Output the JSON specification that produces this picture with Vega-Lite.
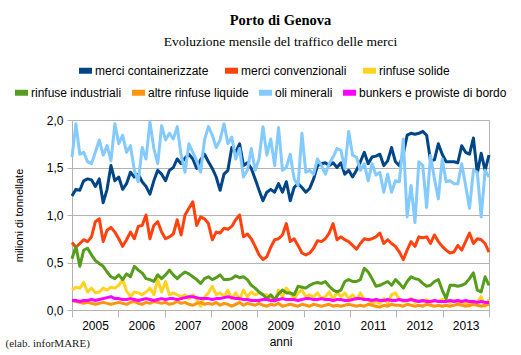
{
"$schema": "https://vega.github.io/schema/vega-lite/v6.json",
"background": "white",
"padding": {"left": 5, "top": 12, "right": 10, "bottom": 4},
"title": {"text": "(elab. inforMARE)", "orient": "bottom", "anchor": "start", "font": "Liberation Serif", "fontSize": 11, "fontWeight": "normal", "color": "#222222", "offset": -10, "dx": -6},
"vconcat": [{
"width": 417,
"height": 190,
"title": {"text": "Porto di Genova", "subtitle": "Evoluzione mensile del traffico delle merci", "font": "Liberation Serif", "fontSize": 14.5, "fontWeight": "bold", "color": "black", "subtitleFont": "Liberation Serif", "subtitleFontSize": 13.5, "subtitleColor": "black", "subtitlePadding": 6, "anchor": "middle", "dx": 0, "offset": 12},
"data": {"values": [
{"m":0,"a":1.20,"b":0.71,"c":0.21,"d":0.54,"e":0.10,"f":1.61,"g":0.10},
{"m":1,"a":1.27,"b":0.66,"c":0.24,"d":0.67,"e":0.09,"f":1.96,"g":0.10},
{"m":2,"a":1.26,"b":0.70,"c":0.23,"d":0.46,"e":0.08,"f":1.64,"g":0.09},
{"m":3,"a":1.36,"b":0.74,"c":0.29,"d":0.63,"e":0.07,"f":1.66,"g":0.10},
{"m":4,"a":1.38,"b":0.72,"c":0.19,"d":0.65,"e":0.08,"f":1.56,"g":0.10},
{"m":5,"a":1.37,"b":0.77,"c":0.23,"d":0.58,"e":0.07,"f":1.54,"g":0.11},
{"m":6,"a":1.30,"b":0.93,"c":0.18,"d":0.52,"e":0.06,"f":1.66,"g":0.10},
{"m":7,"a":1.38,"b":0.96,"c":0.19,"d":0.49,"e":0.07,"f":1.79,"g":0.11},
{"m":8,"a":1.13,"b":0.72,"c":0.23,"d":0.46,"e":0.08,"f":1.63,"g":0.12},
{"m":9,"a":1.27,"b":0.84,"c":0.21,"d":0.40,"e":0.07,"f":1.73,"g":0.13},
{"m":10,"a":1.52,"b":0.87,"c":0.24,"d":0.35,"e":0.06,"f":1.57,"g":0.14},
{"m":11,"a":1.36,"b":0.82,"c":0.23,"d":0.33,"e":0.07,"f":1.96,"g":0.12},
{"m":12,"a":1.40,"b":0.75,"c":0.26,"d":0.37,"e":0.08,"f":1.75,"g":0.12},
{"m":13,"a":1.27,"b":0.67,"c":0.32,"d":0.32,"e":0.07,"f":1.84,"g":0.11},
{"m":14,"a":1.33,"b":0.74,"c":0.20,"d":0.38,"e":0.06,"f":1.66,"g":0.11},
{"m":15,"a":1.45,"b":0.82,"c":0.14,"d":0.35,"e":0.08,"f":1.73,"g":0.12},
{"m":16,"a":1.40,"b":0.75,"c":0.19,"d":0.46,"e":0.09,"f":1.47,"g":0.11},
{"m":17,"a":1.43,"b":0.88,"c":0.18,"d":0.42,"e":0.07,"f":1.35,"g":0.10},
{"m":18,"a":1.35,"b":0.89,"c":0.16,"d":0.39,"e":0.06,"f":1.71,"g":0.11},
{"m":19,"a":1.30,"b":1.00,"c":0.19,"d":0.33,"e":0.08,"f":1.59,"g":0.12},
{"m":20,"a":1.22,"b":0.75,"c":0.23,"d":0.32,"e":0.07,"f":1.98,"g":0.11},
{"m":21,"a":1.36,"b":0.89,"c":0.16,"d":0.30,"e":0.09,"f":1.70,"g":0.10},
{"m":22,"a":1.47,"b":0.93,"c":0.32,"d":0.37,"e":0.08,"f":1.54,"g":0.11},
{"m":23,"a":1.43,"b":0.82,"c":0.19,"d":0.33,"e":0.07,"f":1.94,"g":0.12},
{"m":24,"a":1.36,"b":0.75,"c":0.30,"d":0.37,"e":0.08,"f":1.79,"g":0.11},
{"m":25,"a":1.47,"b":0.77,"c":0.16,"d":0.42,"e":0.06,"f":1.86,"g":0.12},
{"m":26,"a":1.50,"b":0.80,"c":0.18,"d":0.37,"e":0.07,"f":1.80,"g":0.12},
{"m":27,"a":1.59,"b":0.95,"c":0.16,"d":0.33,"e":0.09,"f":1.93,"g":0.11},
{"m":28,"a":1.54,"b":0.79,"c":0.14,"d":0.37,"e":0.07,"f":1.63,"g":0.12},
{"m":29,"a":1.60,"b":1.00,"c":0.16,"d":0.40,"e":0.08,"f":1.45,"g":0.13},
{"m":30,"a":1.64,"b":1.07,"c":0.12,"d":0.38,"e":0.06,"f":1.75,"g":0.14},
{"m":31,"a":1.59,"b":1.14,"c":0.16,"d":0.35,"e":0.05,"f":1.66,"g":0.14},
{"m":32,"a":1.49,"b":0.89,"c":0.11,"d":0.32,"e":0.07,"f":1.57,"g":0.13},
{"m":33,"a":1.58,"b":0.98,"c":0.04,"d":0.28,"e":0.08,"f":1.45,"g":0.12},
{"m":34,"a":1.64,"b":0.96,"c":0.14,"d":0.33,"e":0.06,"f":1.79,"g":0.12},
{"m":35,"a":1.56,"b":0.91,"c":0.18,"d":0.35,"e":0.07,"f":1.93,"g":0.12},
{"m":36,"a":1.49,"b":0.74,"c":0.25,"d":0.32,"e":0.06,"f":1.84,"g":0.11},
{"m":37,"a":1.40,"b":0.82,"c":0.16,"d":0.34,"e":0.08,"f":1.71,"g":0.12},
{"m":38,"a":1.26,"b":0.81,"c":0.18,"d":0.37,"e":0.05,"f":1.79,"g":0.12},
{"m":39,"a":1.43,"b":0.86,"c":0.14,"d":0.32,"e":0.07,"f":1.96,"g":0.13},
{"m":40,"a":1.47,"b":0.85,"c":0.21,"d":0.32,"e":0.06,"f":1.75,"g":0.14},
{"m":41,"a":1.71,"b":0.88,"c":0.12,"d":0.33,"e":0.04,"f":1.82,"g":0.13},
{"m":42,"a":1.66,"b":0.95,"c":0.18,"d":0.36,"e":0.06,"f":1.59,"g":0.12},
{"m":43,"a":1.75,"b":1.00,"c":0.11,"d":0.34,"e":0.08,"f":1.70,"g":0.12},
{"m":44,"a":1.52,"b":0.77,"c":0.21,"d":0.35,"e":0.05,"f":1.40,"g":0.11},
{"m":45,"a":1.55,"b":0.80,"c":0.14,"d":0.32,"e":0.07,"f":1.47,"g":0.11},
{"m":46,"a":1.49,"b":0.75,"c":0.19,"d":0.26,"e":0.06,"f":1.70,"g":0.10},
{"m":47,"a":1.38,"b":0.67,"c":0.16,"d":0.23,"e":0.05,"f":1.47,"g":0.10},
{"m":48,"a":1.26,"b":0.58,"c":0.18,"d":0.19,"e":0.07,"f":1.59,"g":0.10},
{"m":49,"a":1.15,"b":0.53,"c":0.16,"d":0.16,"e":0.05,"f":1.93,"g":0.11},
{"m":50,"a":1.24,"b":0.56,"c":0.16,"d":0.12,"e":0.04,"f":1.63,"g":0.11},
{"m":51,"a":1.27,"b":0.66,"c":0.12,"d":0.16,"e":0.06,"f":1.80,"g":0.10},
{"m":52,"a":1.24,"b":0.74,"c":0.09,"d":0.11,"e":0.05,"f":1.52,"g":0.10},
{"m":53,"a":1.33,"b":0.75,"c":0.21,"d":0.17,"e":0.07,"f":1.92,"g":0.11},
{"m":54,"a":1.24,"b":0.79,"c":0.14,"d":0.21,"e":0.04,"f":1.47,"g":0.12},
{"m":55,"a":1.35,"b":0.91,"c":0.23,"d":0.18,"e":0.05,"f":1.50,"g":0.11},
{"m":56,"a":1.15,"b":0.72,"c":0.18,"d":0.18,"e":0.06,"f":1.64,"g":0.11},
{"m":57,"a":1.29,"b":0.75,"c":0.12,"d":0.16,"e":0.05,"f":1.38,"g":0.11},
{"m":58,"a":1.33,"b":0.68,"c":0.18,"d":0.25,"e":0.04,"f":1.31,"g":0.10},
{"m":59,"a":1.29,"b":0.60,"c":0.21,"d":0.24,"e":0.06,"f":1.86,"g":0.11},
{"m":60,"a":1.24,"b":0.58,"c":0.14,"d":0.23,"e":0.05,"f":1.45,"g":0.12},
{"m":61,"a":1.28,"b":0.60,"c":0.16,"d":0.26,"e":0.04,"f":1.47,"g":0.12},
{"m":62,"a":1.38,"b":0.65,"c":0.14,"d":0.28,"e":0.06,"f":1.43,"g":0.11},
{"m":63,"a":1.52,"b":0.73,"c":0.18,"d":0.29,"e":0.05,"f":1.59,"g":0.11},
{"m":64,"a":1.54,"b":0.72,"c":0.12,"d":0.28,"e":0.04,"f":1.52,"g":0.12},
{"m":65,"a":1.55,"b":0.75,"c":0.14,"d":0.30,"e":0.05,"f":1.43,"g":0.11},
{"m":66,"a":1.52,"b":0.81,"c":0.19,"d":0.25,"e":0.06,"f":1.54,"g":0.11},
{"m":67,"a":1.55,"b":0.91,"c":0.11,"d":0.21,"e":0.04,"f":1.61,"g":0.10},
{"m":68,"a":1.50,"b":0.74,"c":0.19,"d":0.19,"e":0.05,"f":1.70,"g":0.11},
{"m":69,"a":1.55,"b":0.77,"c":0.14,"d":0.21,"e":0.04,"f":1.68,"g":0.11},
{"m":70,"a":1.43,"b":0.74,"c":0.18,"d":0.30,"e":0.05,"f":1.49,"g":0.10},
{"m":71,"a":1.47,"b":0.72,"c":0.12,"d":0.32,"e":0.06,"f":1.88,"g":0.10},
{"m":72,"a":1.40,"b":0.68,"c":0.16,"d":0.30,"e":0.05,"f":1.63,"g":0.11},
{"m":73,"a":1.47,"b":0.64,"c":0.11,"d":0.30,"e":0.04,"f":1.61,"g":0.12},
{"m":74,"a":1.56,"b":0.70,"c":0.18,"d":0.32,"e":0.05,"f":1.47,"g":0.12},
{"m":75,"a":1.66,"b":0.75,"c":0.11,"d":0.44,"e":0.04,"f":1.54,"g":0.11},
{"m":76,"a":1.54,"b":0.74,"c":0.11,"d":0.40,"e":0.06,"f":1.36,"g":0.11},
{"m":77,"a":1.61,"b":0.75,"c":0.07,"d":0.33,"e":0.05,"f":1.54,"g":0.10},
{"m":78,"a":1.62,"b":0.77,"c":0.09,"d":0.25,"e":0.04,"f":1.42,"g":0.11},
{"m":79,"a":1.64,"b":0.81,"c":0.07,"d":0.26,"e":0.03,"f":1.45,"g":0.10},
{"m":80,"a":1.52,"b":0.70,"c":0.12,"d":0.28,"e":0.05,"f":1.24,"g":0.10},
{"m":81,"a":1.57,"b":0.74,"c":0.07,"d":0.30,"e":0.04,"f":1.43,"g":0.11},
{"m":82,"a":1.71,"b":0.70,"c":0.16,"d":0.26,"e":0.06,"f":1.24,"g":0.10},
{"m":83,"a":1.56,"b":0.67,"c":0.18,"d":0.32,"e":0.05,"f":1.36,"g":0.10},
{"m":84,"a":1.52,"b":0.61,"c":0.11,"d":0.28,"e":0.05,"f":1.35,"g":0.11},
{"m":85,"a":1.64,"b":0.53,"c":0.09,"d":0.23,"e":0.04,"f":1.80,"g":0.10},
{"m":86,"a":1.84,"b":0.63,"c":0.10,"d":0.30,"e":0.06,"f":0.98,"g":0.10},
{"m":87,"a":1.86,"b":0.72,"c":0.12,"d":0.35,"e":0.05,"f":1.31,"g":0.11},
{"m":88,"a":1.85,"b":0.67,"c":0.08,"d":0.33,"e":0.04,"f":0.92,"g":0.10},
{"m":89,"a":1.86,"b":0.77,"c":0.10,"d":0.32,"e":0.05,"f":1.56,"g":0.09},
{"m":90,"a":1.88,"b":0.76,"c":0.09,"d":0.28,"e":0.04,"f":1.52,"g":0.10},
{"m":91,"a":1.84,"b":0.77,"c":0.11,"d":0.25,"e":0.06,"f":1.08,"g":0.09},
{"m":92,"a":1.57,"b":0.70,"c":0.08,"d":0.26,"e":0.05,"f":1.63,"g":0.09},
{"m":93,"a":1.58,"b":0.79,"c":0.10,"d":0.30,"e":0.04,"f":1.38,"g":0.10},
{"m":94,"a":1.75,"b":0.72,"c":0.09,"d":0.32,"e":0.05,"f":1.17,"g":0.09},
{"m":95,"a":1.64,"b":0.67,"c":0.11,"d":0.21,"e":0.04,"f":1.59,"g":0.09},
{"m":96,"a":1.56,"b":0.63,"c":0.10,"d":0.12,"e":0.05,"f":1.35,"g":0.09},
{"m":97,"a":1.56,"b":0.60,"c":0.08,"d":0.26,"e":0.04,"f":1.36,"g":0.10},
{"m":98,"a":1.56,"b":0.61,"c":0.10,"d":0.26,"e":0.05,"f":1.33,"g":0.09},
{"m":99,"a":1.55,"b":0.68,"c":0.09,"d":0.25,"e":0.06,"f":1.33,"g":0.10},
{"m":100,"a":1.73,"b":0.63,"c":0.07,"d":0.26,"e":0.05,"f":1.54,"g":0.09},
{"m":101,"a":1.66,"b":0.72,"c":0.08,"d":0.28,"e":0.04,"f":1.31,"g":0.10},
{"m":102,"a":1.64,"b":0.81,"c":0.04,"d":0.33,"e":0.05,"f":1.07,"g":0.09},
{"m":103,"a":1.81,"b":0.70,"c":0.09,"d":0.39,"e":0.06,"f":1.47,"g":0.09},
{"m":104,"a":1.44,"b":0.75,"c":0.08,"d":0.21,"e":0.05,"f":1.45,"g":0.08},
{"m":105,"a":1.65,"b":0.74,"c":0.14,"d":0.19,"e":0.04,"f":0.98,"g":0.09},
{"m":106,"a":1.47,"b":0.70,"c":0.04,"d":0.35,"e":0.05,"f":1.47,"g":0.08},
{"m":107,"a":1.63,"b":0.61,"c":0.11,"d":0.26,"e":0.06,"f":1.40,"g":0.08}
]},
"transform": [{"fold": ["a","b","c","d","e","f","g"], "as": ["serie","valore"]}],
"encoding": {
  "x": {"field": "m", "type": "quantitative",
        "scale": {"domain": [0,107], "nice": false, "zero": false},
        "axis": {"values": [0,11.889,23.778,35.667,47.556,59.444,71.333,83.222,95.111,107],
                 "grid": false, "tickSize": 7, "labelFlush": false, "labelOverlap": false,
                 "labelOffset": 23, "labelPadding": 3,
                 "labelExpr": "datum.value > 100 ? '' : '' + (2005 + round(datum.value / 11.889))",
                 "title": "anni", "titlePadding": 5}},
  "y": {"field": "valore", "type": "quantitative",
        "scale": {"domain": [0,2], "nice": false},
        "axis": {"values": [0,0.5,1,1.5,2], "grid": true, "tickSize": 5, "labelPadding": 4,
                 "labelExpr": "replace(format(datum.value, '.1f'), '.', ',')",
                 "title": "milioni di tonnellate", "titlePadding": 22, "titleFontSize": 11}}
},
"layer": [
  {"transform": [{"filter": {"field": "serie", "oneOf": ["a","b","c"]}}],
   "mark": {"type": "line", "strokeWidth": 3, "strokeJoin": "round"},
   "encoding": {"color": {"field": "serie", "type": "nominal",
      "scale": {"domain": ["a","b","c"], "range": ["#004586","#ff420e","#ffd320"]},
      "legend": {"orient": "none", "legendX": 4, "legendY": -59, "direction": "horizontal", "columns": 3, "columnPadding": 4,
                 "labelExpr": "datum.label == 'a' ? 'merci containerizzate' : datum.label == 'b' ? 'merci convenzionali' : 'rinfuse solide'"}}}},
  {"transform": [{"filter": {"field": "serie", "oneOf": ["d","e","f","g"]}}],
   "mark": {"type": "line", "strokeWidth": 3, "strokeJoin": "round"},
   "encoding": {"color": {"field": "serie", "type": "nominal",
      "scale": {"domain": ["d","e","f","g"], "range": ["#579d1c","#ff950e","#83caff","#ff00ff"]},
      "legend": {"orient": "none", "legendX": -60, "legendY": -37, "direction": "horizontal", "columns": 4, "columnPadding": -2,
                 "labelExpr": "datum.label == 'd' ? 'rinfuse industriali' : datum.label == 'e' ? 'altre rinfuse liquide' : datum.label == 'f' ? 'oli minerali' : 'bunkers e prowiste di bordo'"}}}}
],
"resolve": {"scale": {"color": "independent"}}
}],
"config": {
  "view": {"stroke": "#b3b3b3"},
  "axis": {"domainColor": "#b3b3b3", "tickColor": "#b3b3b3", "gridColor": "#b3b3b3",
           "labelFont": "Liberation Sans", "labelFontSize": 12, "labelColor": "black",
           "titleFont": "Liberation Sans", "titleFontSize": 12, "titleFontWeight": "normal", "titleColor": "black"},
  "legend": {"title": null, "symbolType": "stroke", "symbolSize": 169, "symbolStrokeWidth": 6,
             "labelFont": "Liberation Sans", "labelFontSize": 12, "labelColor": "black",
             "labelOffset": 0, "padding": 0}
}
}
